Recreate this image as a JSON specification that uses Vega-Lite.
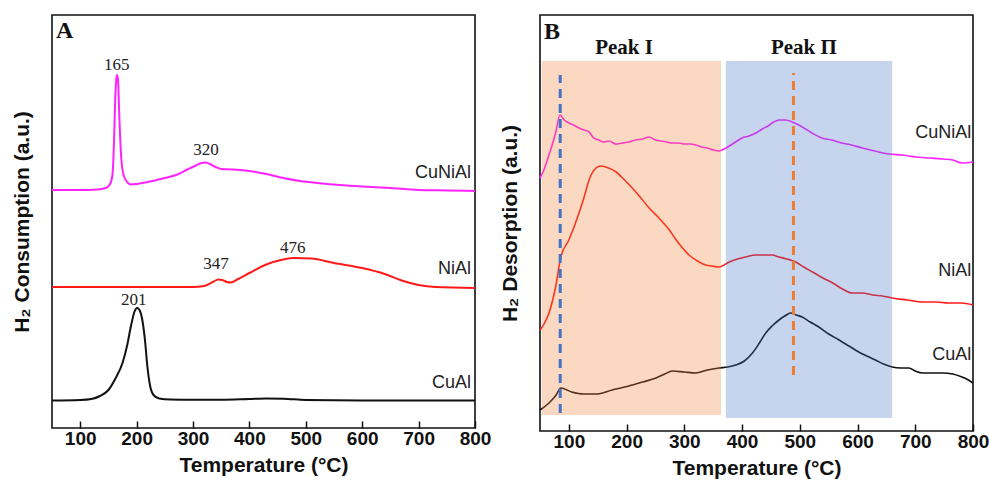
{
  "$schema": "https://vega.github.io/schema/vega-lite/v6.json",
  "padding": {"left": 10, "top": 14, "right": 4, "bottom": 2},
  "background": "white",
  "bounds": "flush",
  "spacing": 65,
  "config": {
    "view": {"stroke": "#111", "strokeWidth": 1.6},
    "axisX": {
      "grid": false, "domain": false, "labelFlush": false, "labelOverlap": false,
      "tickSize": -7, "tickWidth": 1.5, "tickColor": "#111",
      "labelFont": "Liberation Sans", "labelFontWeight": "bold", "labelFontSize": 19, "labelColor": "#111",
      "labelPadding": 8,
      "titleFont": "Liberation Sans", "titleFontWeight": "bold", "titleFontSize": 21, "titleColor": "#111", "titlePadding": 6
    },
    "axisY": {
      "grid": false, "domain": false, "ticks": false, "labels": false,
      "titleFont": "Liberation Sans", "titleFontWeight": "bold", "titleFontSize": 21, "titleColor": "#111", "titlePadding": 20
    }
  },
  "datasets": {
    "tprA": [
      {"T": 50, "v": 238, "s": "CuNiAl"}, {"T": 100, "v": 238, "s": "CuNiAl"}, {"T": 130, "v": 238.5, "s": "CuNiAl"}, {"T": 145, "v": 240, "s": "CuNiAl"}, {"T": 152, "v": 243, "s": "CuNiAl"}, {"T": 157, "v": 252, "s": "CuNiAl"}, {"T": 160, "v": 287, "s": "CuNiAl"}, {"T": 162, "v": 327, "s": "CuNiAl"}, {"T": 164, "v": 349, "s": "CuNiAl"}, {"T": 165, "v": 353, "s": "CuNiAl"}, {"T": 167, "v": 349, "s": "CuNiAl"}, {"T": 169, "v": 317, "s": "CuNiAl"}, {"T": 172, "v": 277, "s": "CuNiAl"}, {"T": 176, "v": 255, "s": "CuNiAl"}, {"T": 182, "v": 247, "s": "CuNiAl"}, {"T": 190, "v": 243.5, "s": "CuNiAl"}, {"T": 200, "v": 244, "s": "CuNiAl"}, {"T": 220, "v": 246, "s": "CuNiAl"}, {"T": 250, "v": 250, "s": "CuNiAl"}, {"T": 270, "v": 253, "s": "CuNiAl"}, {"T": 290, "v": 258.5, "s": "CuNiAl"}, {"T": 305, "v": 262.5, "s": "CuNiAl"}, {"T": 315, "v": 265, "s": "CuNiAl"}, {"T": 322, "v": 265.5, "s": "CuNiAl"}, {"T": 330, "v": 264, "s": "CuNiAl"}, {"T": 340, "v": 261, "s": "CuNiAl"}, {"T": 350, "v": 259, "s": "CuNiAl"}, {"T": 370, "v": 258.5, "s": "CuNiAl"}, {"T": 400, "v": 257, "s": "CuNiAl"}, {"T": 430, "v": 254, "s": "CuNiAl"}, {"T": 460, "v": 250, "s": "CuNiAl"}, {"T": 490, "v": 247, "s": "CuNiAl"}, {"T": 520, "v": 245, "s": "CuNiAl"}, {"T": 560, "v": 243, "s": "CuNiAl"}, {"T": 600, "v": 241.5, "s": "CuNiAl"}, {"T": 650, "v": 240, "s": "CuNiAl"}, {"T": 700, "v": 238, "s": "CuNiAl"}, {"T": 750, "v": 237.5, "s": "CuNiAl"}, {"T": 800, "v": 237, "s": "CuNiAl"},
      {"T": 50, "v": 141, "s": "NiAl"}, {"T": 200, "v": 141, "s": "NiAl"}, {"T": 300, "v": 141, "s": "NiAl"}, {"T": 320, "v": 142, "s": "NiAl"}, {"T": 335, "v": 146, "s": "NiAl"}, {"T": 345, "v": 148.5, "s": "NiAl"}, {"T": 352, "v": 148, "s": "NiAl"}, {"T": 360, "v": 146, "s": "NiAl"}, {"T": 367, "v": 145.5, "s": "NiAl"}, {"T": 380, "v": 149, "s": "NiAl"}, {"T": 400, "v": 155, "s": "NiAl"}, {"T": 430, "v": 163.5, "s": "NiAl"}, {"T": 460, "v": 168.5, "s": "NiAl"}, {"T": 480, "v": 170, "s": "NiAl"}, {"T": 510, "v": 169.5, "s": "NiAl"}, {"T": 550, "v": 165, "s": "NiAl"}, {"T": 600, "v": 160, "s": "NiAl"}, {"T": 640, "v": 154, "s": "NiAl"}, {"T": 670, "v": 147.5, "s": "NiAl"}, {"T": 700, "v": 143, "s": "NiAl"}, {"T": 730, "v": 141, "s": "NiAl"}, {"T": 800, "v": 140, "s": "NiAl"},
      {"T": 50, "v": 27.5, "s": "CuAl"}, {"T": 100, "v": 28, "s": "CuAl"}, {"T": 120, "v": 29, "s": "CuAl"}, {"T": 135, "v": 32, "s": "CuAl"}, {"T": 150, "v": 38, "s": "CuAl"}, {"T": 163, "v": 50, "s": "CuAl"}, {"T": 175, "v": 65, "s": "CuAl"}, {"T": 183, "v": 82, "s": "CuAl"}, {"T": 190, "v": 102, "s": "CuAl"}, {"T": 196, "v": 116, "s": "CuAl"}, {"T": 201, "v": 120, "s": "CuAl"}, {"T": 206, "v": 117, "s": "CuAl"}, {"T": 211, "v": 105, "s": "CuAl"}, {"T": 215, "v": 87, "s": "CuAl"}, {"T": 219, "v": 62, "s": "CuAl"}, {"T": 224, "v": 42, "s": "CuAl"}, {"T": 230, "v": 33, "s": "CuAl"}, {"T": 240, "v": 29.5, "s": "CuAl"}, {"T": 260, "v": 28.5, "s": "CuAl"}, {"T": 300, "v": 28.2, "s": "CuAl"}, {"T": 350, "v": 28.2, "s": "CuAl"}, {"T": 400, "v": 29, "s": "CuAl"}, {"T": 430, "v": 29.5, "s": "CuAl"}, {"T": 460, "v": 29.3, "s": "CuAl"}, {"T": 500, "v": 28, "s": "CuAl"}, {"T": 600, "v": 27.5, "s": "CuAl"}, {"T": 800, "v": 27.5, "s": "CuAl"}
    ],
    "peaksA": [
      {"T": 165, "v": 363, "t": "165"}, {"T": 323, "v": 278, "t": "320"}, {"T": 341, "v": 164, "t": "347"}, {"T": 477, "v": 180, "t": "476"}, {"T": 195, "v": 128, "t": "201"}
    ],
    "namesA": [
      {"T": 793, "v": 255, "t": "CuNiAl"}, {"T": 793, "v": 159, "t": "NiAl"}, {"T": 793, "v": 45, "t": "CuAl"}
    ],
    "letterA": [{"T": 57, "v": 397, "t": "A"}],
    "tpdB": [
      {"T": 50, "v": 253, "s": "CuNiAl"}, {"T": 56, "v": 260, "s": "CuNiAl"}, {"T": 62.7, "v": 271, "s": "CuNiAl"}, {"T": 70, "v": 284, "s": "CuNiAl"}, {"T": 77, "v": 298, "s": "CuNiAl"}, {"T": 84.6, "v": 316, "s": "CuNiAl"}, {"T": 92, "v": 311, "s": "CuNiAl"}, {"T": 100, "v": 308, "s": "CuNiAl"}, {"T": 108, "v": 306, "s": "CuNiAl"}, {"T": 117.6, "v": 303, "s": "CuNiAl"}, {"T": 126, "v": 301, "s": "CuNiAl"}, {"T": 135, "v": 299, "s": "CuNiAl"}, {"T": 143, "v": 293, "s": "CuNiAl"}, {"T": 152, "v": 291, "s": "CuNiAl"}, {"T": 160, "v": 289, "s": "CuNiAl"}, {"T": 170, "v": 290, "s": "CuNiAl"}, {"T": 181, "v": 287, "s": "CuNiAl"}, {"T": 192, "v": 288, "s": "CuNiAl"}, {"T": 204, "v": 289, "s": "CuNiAl"}, {"T": 215, "v": 291, "s": "CuNiAl"}, {"T": 228, "v": 292, "s": "CuNiAl"}, {"T": 239, "v": 294, "s": "CuNiAl"}, {"T": 250, "v": 291, "s": "CuNiAl"}, {"T": 260, "v": 290, "s": "CuNiAl"}, {"T": 270, "v": 289, "s": "CuNiAl"}, {"T": 279, "v": 288, "s": "CuNiAl"}, {"T": 290, "v": 288, "s": "CuNiAl"}, {"T": 300, "v": 287, "s": "CuNiAl"}, {"T": 310, "v": 287, "s": "CuNiAl"}, {"T": 320, "v": 286, "s": "CuNiAl"}, {"T": 330, "v": 284, "s": "CuNiAl"}, {"T": 340, "v": 283, "s": "CuNiAl"}, {"T": 350, "v": 281, "s": "CuNiAl"}, {"T": 360, "v": 280, "s": "CuNiAl"}, {"T": 372, "v": 283, "s": "CuNiAl"}, {"T": 386, "v": 288, "s": "CuNiAl"}, {"T": 400, "v": 293, "s": "CuNiAl"}, {"T": 412, "v": 295, "s": "CuNiAl"}, {"T": 424, "v": 298, "s": "CuNiAl"}, {"T": 435, "v": 302, "s": "CuNiAl"}, {"T": 445, "v": 305, "s": "CuNiAl"}, {"T": 455, "v": 309, "s": "CuNiAl"}, {"T": 464, "v": 311, "s": "CuNiAl"}, {"T": 475, "v": 311, "s": "CuNiAl"}, {"T": 487, "v": 309, "s": "CuNiAl"}, {"T": 498, "v": 306, "s": "CuNiAl"}, {"T": 510, "v": 302, "s": "CuNiAl"}, {"T": 524, "v": 297, "s": "CuNiAl"}, {"T": 538, "v": 293, "s": "CuNiAl"}, {"T": 555, "v": 291, "s": "CuNiAl"}, {"T": 573, "v": 288, "s": "CuNiAl"}, {"T": 590, "v": 286, "s": "CuNiAl"}, {"T": 608, "v": 283, "s": "CuNiAl"}, {"T": 630, "v": 280, "s": "CuNiAl"}, {"T": 654, "v": 277, "s": "CuNiAl"}, {"T": 678, "v": 276, "s": "CuNiAl"}, {"T": 701, "v": 274, "s": "CuNiAl"}, {"T": 725, "v": 273, "s": "CuNiAl"}, {"T": 747, "v": 272, "s": "CuNiAl"}, {"T": 765, "v": 271, "s": "CuNiAl"}, {"T": 781, "v": 268, "s": "CuNiAl"}, {"T": 800, "v": 269, "s": "CuNiAl"},
      {"T": 50, "v": 101, "s": "NiAl"}, {"T": 58, "v": 108, "s": "NiAl"}, {"T": 65.6, "v": 118, "s": "NiAl"}, {"T": 72, "v": 131, "s": "NiAl"}, {"T": 77, "v": 144, "s": "NiAl"}, {"T": 86, "v": 174, "s": "NiAl"}, {"T": 100, "v": 191, "s": "NiAl"}, {"T": 117.6, "v": 218, "s": "NiAl"}, {"T": 127, "v": 235, "s": "NiAl"}, {"T": 135, "v": 251, "s": "NiAl"}, {"T": 147, "v": 263, "s": "NiAl"}, {"T": 155, "v": 265, "s": "NiAl"}, {"T": 164, "v": 264, "s": "NiAl"}, {"T": 182, "v": 259, "s": "NiAl"}, {"T": 193, "v": 253, "s": "NiAl"}, {"T": 205, "v": 246, "s": "NiAl"}, {"T": 222, "v": 235, "s": "NiAl"}, {"T": 239, "v": 223, "s": "NiAl"}, {"T": 256, "v": 213, "s": "NiAl"}, {"T": 274, "v": 201, "s": "NiAl"}, {"T": 286, "v": 191, "s": "NiAl"}, {"T": 297, "v": 183, "s": "NiAl"}, {"T": 308, "v": 176, "s": "NiAl"}, {"T": 320, "v": 171, "s": "NiAl"}, {"T": 337, "v": 166, "s": "NiAl"}, {"T": 348, "v": 165, "s": "NiAl"}, {"T": 360, "v": 164, "s": "NiAl"}, {"T": 378, "v": 169, "s": "NiAl"}, {"T": 392, "v": 172, "s": "NiAl"}, {"T": 406, "v": 174, "s": "NiAl"}, {"T": 424, "v": 176, "s": "NiAl"}, {"T": 441, "v": 176, "s": "NiAl"}, {"T": 452, "v": 176, "s": "NiAl"}, {"T": 464, "v": 174, "s": "NiAl"}, {"T": 478, "v": 172, "s": "NiAl"}, {"T": 493, "v": 169, "s": "NiAl"}, {"T": 507, "v": 164, "s": "NiAl"}, {"T": 522, "v": 159, "s": "NiAl"}, {"T": 540, "v": 153, "s": "NiAl"}, {"T": 557, "v": 148, "s": "NiAl"}, {"T": 574, "v": 142, "s": "NiAl"}, {"T": 591, "v": 138, "s": "NiAl"}, {"T": 608, "v": 138, "s": "NiAl"}, {"T": 626, "v": 136, "s": "NiAl"}, {"T": 643, "v": 135, "s": "NiAl"}, {"T": 660, "v": 133, "s": "NiAl"}, {"T": 686, "v": 131, "s": "NiAl"}, {"T": 712, "v": 129, "s": "NiAl"}, {"T": 735, "v": 129, "s": "NiAl"}, {"T": 758, "v": 128, "s": "NiAl"}, {"T": 780, "v": 128, "s": "NiAl"}, {"T": 800, "v": 126, "s": "NiAl"},
      {"T": 50, "v": 21, "s": "CuAl"}, {"T": 65.6, "v": 28, "s": "CuAl"}, {"T": 78, "v": 36, "s": "CuAl"}, {"T": 86, "v": 43, "s": "CuAl"}, {"T": 105, "v": 39, "s": "CuAl"}, {"T": 125, "v": 37, "s": "CuAl"}, {"T": 147, "v": 37, "s": "CuAl"}, {"T": 175, "v": 41, "s": "CuAl"}, {"T": 204, "v": 45, "s": "CuAl"}, {"T": 228, "v": 49, "s": "CuAl"}, {"T": 251, "v": 53, "s": "CuAl"}, {"T": 266, "v": 57, "s": "CuAl"}, {"T": 279, "v": 60, "s": "CuAl"}, {"T": 300, "v": 59, "s": "CuAl"}, {"T": 320, "v": 58, "s": "CuAl"}, {"T": 340, "v": 61, "s": "CuAl"}, {"T": 360, "v": 63, "s": "CuAl"}, {"T": 375, "v": 64, "s": "CuAl"}, {"T": 389, "v": 66, "s": "CuAl"}, {"T": 404, "v": 70, "s": "CuAl"}, {"T": 418, "v": 78, "s": "CuAl"}, {"T": 430, "v": 88, "s": "CuAl"}, {"T": 441, "v": 98, "s": "CuAl"}, {"T": 452, "v": 105, "s": "CuAl"}, {"T": 464, "v": 111, "s": "CuAl"}, {"T": 474, "v": 115, "s": "CuAl"}, {"T": 484, "v": 118, "s": "CuAl"}, {"T": 494, "v": 116, "s": "CuAl"}, {"T": 504, "v": 114, "s": "CuAl"}, {"T": 518, "v": 109, "s": "CuAl"}, {"T": 533, "v": 104, "s": "CuAl"}, {"T": 550, "v": 97, "s": "CuAl"}, {"T": 568, "v": 91, "s": "CuAl"}, {"T": 585, "v": 85, "s": "CuAl"}, {"T": 602, "v": 79, "s": "CuAl"}, {"T": 616, "v": 75, "s": "CuAl"}, {"T": 631, "v": 71, "s": "CuAl"}, {"T": 645, "v": 67, "s": "CuAl"}, {"T": 660, "v": 64, "s": "CuAl"}, {"T": 675, "v": 63, "s": "CuAl"}, {"T": 689, "v": 63, "s": "CuAl"}, {"T": 700, "v": 60, "s": "CuAl"}, {"T": 712, "v": 58, "s": "CuAl"}, {"T": 730, "v": 58, "s": "CuAl"}, {"T": 747, "v": 58, "s": "CuAl"}, {"T": 765, "v": 57, "s": "CuAl"}, {"T": 781, "v": 54, "s": "CuAl"}, {"T": 792, "v": 51, "s": "CuAl"}, {"T": 800, "v": 48, "s": "CuAl"}
    ],
    "regionsB": [
      {"T0": 53, "T1": 363.5, "v0": 16, "v1": 370, "r": "Peak I"},
      {"T0": 372, "T1": 660, "v0": 13, "v1": 370, "r": "Peak II"}
    ],
    "rulesB": [
      {"T": 85, "v0": 18, "v1": 356, "r": "Peak I"},
      {"T": 489, "v0": 56, "v1": 358, "r": "Peak II"}
    ],
    "peakNamesB": [
      {"T": 195.5, "v": 383, "t": "Peak I"}, {"T": 507, "v": 383, "t": "Peak Π"}
    ],
    "namesB": [
      {"T": 797, "v": 298, "t": "CuNiAl"}, {"T": 797, "v": 160, "t": "NiAl"}, {"T": 797, "v": 76, "t": "CuAl"}
    ],
    "letterB": [{"T": 57, "v": 399, "t": "B"}]
  },
  "hconcat": [
    {
      "width": 423,
      "height": 413,
      "layer": [
        {
          "data": {"name": "tprA"},
          "mark": {"type": "line", "strokeWidth": 2, "interpolate": "monotone"},
          "encoding": {
            "x": {"field": "T", "type": "quantitative", "scale": {"domain": [50, 800], "nice": false}, "axis": {"values": [100, 200, 300, 400, 500, 600, 700, 800]}, "title": "Temperature (°C)"},
            "y": {"field": "v", "type": "quantitative", "scale": {"domain": [0, 413], "nice": false}, "title": "H₂ Consumption (a.u.)"},
            "stroke": {"field": "s", "type": "nominal", "scale": {"domain": ["CuNiAl", "NiAl", "CuAl"], "range": ["#ff22ff", "#ff1a1a", "#111111"]}, "legend": null}
          }
        },
        {
          "data": {"name": "peaksA"},
          "mark": {"type": "text", "font": "Liberation Serif", "fontSize": 17, "color": "#222", "baseline": "middle", "align": "center"},
          "encoding": {
            "x": {"field": "T", "type": "quantitative"},
            "y": {"field": "v", "type": "quantitative"},
            "text": {"field": "t"}
          }
        },
        {
          "data": {"name": "namesA"},
          "mark": {"type": "text", "font": "Liberation Sans", "fontSize": 18, "color": "#222", "baseline": "middle", "align": "right"},
          "encoding": {
            "x": {"field": "T", "type": "quantitative"},
            "y": {"field": "v", "type": "quantitative"},
            "text": {"field": "t"}
          }
        },
        {
          "data": {"name": "letterA"},
          "mark": {"type": "text", "font": "Liberation Serif", "fontWeight": "bold", "fontSize": 24, "color": "#111", "baseline": "middle", "align": "left"},
          "encoding": {
            "x": {"field": "T", "type": "quantitative"},
            "y": {"field": "v", "type": "quantitative"},
            "text": {"field": "t"}
          }
        }
      ]
    },
    {
      "width": 433,
      "height": 416,
      "layer": [
        {
          "data": {"name": "tpdB"},
          "mark": {"type": "line", "strokeWidth": 1.6, "interpolate": "monotone"},
          "encoding": {
            "x": {"field": "T", "type": "quantitative", "scale": {"domain": [50, 800], "nice": false}, "axis": {"values": [100, 200, 300, 400, 500, 600, 700, 800]}, "title": "Temperature (°C)"},
            "y": {"field": "v", "type": "quantitative", "scale": {"domain": [0, 416], "nice": false}, "title": "H₂ Desorption (a.u.)"},
            "stroke": {"field": "s", "type": "nominal", "scale": {"domain": ["CuNiAl", "NiAl", "CuAl"], "range": ["#ee22ee", "#ff1a1a", "#111111"]}, "legend": null}
          }
        },
        {
          "data": {"name": "regionsB"},
          "mark": {"type": "rect", "opacity": 0.3},
          "encoding": {
            "x": {"field": "T0", "type": "quantitative"},
            "x2": {"field": "T1"},
            "y": {"field": "v0", "type": "quantitative"},
            "y2": {"field": "v1"},
            "fill": {"field": "r", "type": "nominal", "scale": {"domain": ["Peak I", "Peak II"], "range": ["#ED7D31", "#4472C4"]}, "legend": null}
          }
        },
        {
          "data": {"name": "rulesB"},
          "transform": [{"filter": "datum.r == 'Peak I'"}],
          "mark": {"type": "rule", "strokeWidth": 3, "strokeDash": [9, 6], "color": "#4472C4"},
          "encoding": {
            "x": {"field": "T", "type": "quantitative"},
            "y": {"field": "v0", "type": "quantitative"},
            "y2": {"field": "v1"}
          }
        },
        {
          "data": {"name": "rulesB"},
          "transform": [{"filter": "datum.r == 'Peak II'"}],
          "mark": {"type": "rule", "strokeWidth": 3, "strokeDash": [9, 6], "color": "#ED7D31"},
          "encoding": {
            "x": {"field": "T", "type": "quantitative"},
            "y": {"field": "v0", "type": "quantitative"},
            "y2": {"field": "v1"}
          }
        },
        {
          "data": {"name": "peakNamesB"},
          "mark": {"type": "text", "font": "Liberation Serif", "fontWeight": "bold", "fontSize": 21, "color": "#111", "baseline": "middle", "align": "center"},
          "encoding": {
            "x": {"field": "T", "type": "quantitative"},
            "y": {"field": "v", "type": "quantitative"},
            "text": {"field": "t"}
          }
        },
        {
          "data": {"name": "namesB"},
          "mark": {"type": "text", "font": "Liberation Sans", "fontSize": 18, "color": "#222", "baseline": "middle", "align": "right"},
          "encoding": {
            "x": {"field": "T", "type": "quantitative"},
            "y": {"field": "v", "type": "quantitative"},
            "text": {"field": "t"}
          }
        },
        {
          "data": {"name": "letterB"},
          "mark": {"type": "text", "font": "Liberation Serif", "fontWeight": "bold", "fontSize": 24, "color": "#111", "baseline": "middle", "align": "left"},
          "encoding": {
            "x": {"field": "T", "type": "quantitative"},
            "y": {"field": "v", "type": "quantitative"},
            "text": {"field": "t"}
          }
        }
      ]
    }
  ]
}
